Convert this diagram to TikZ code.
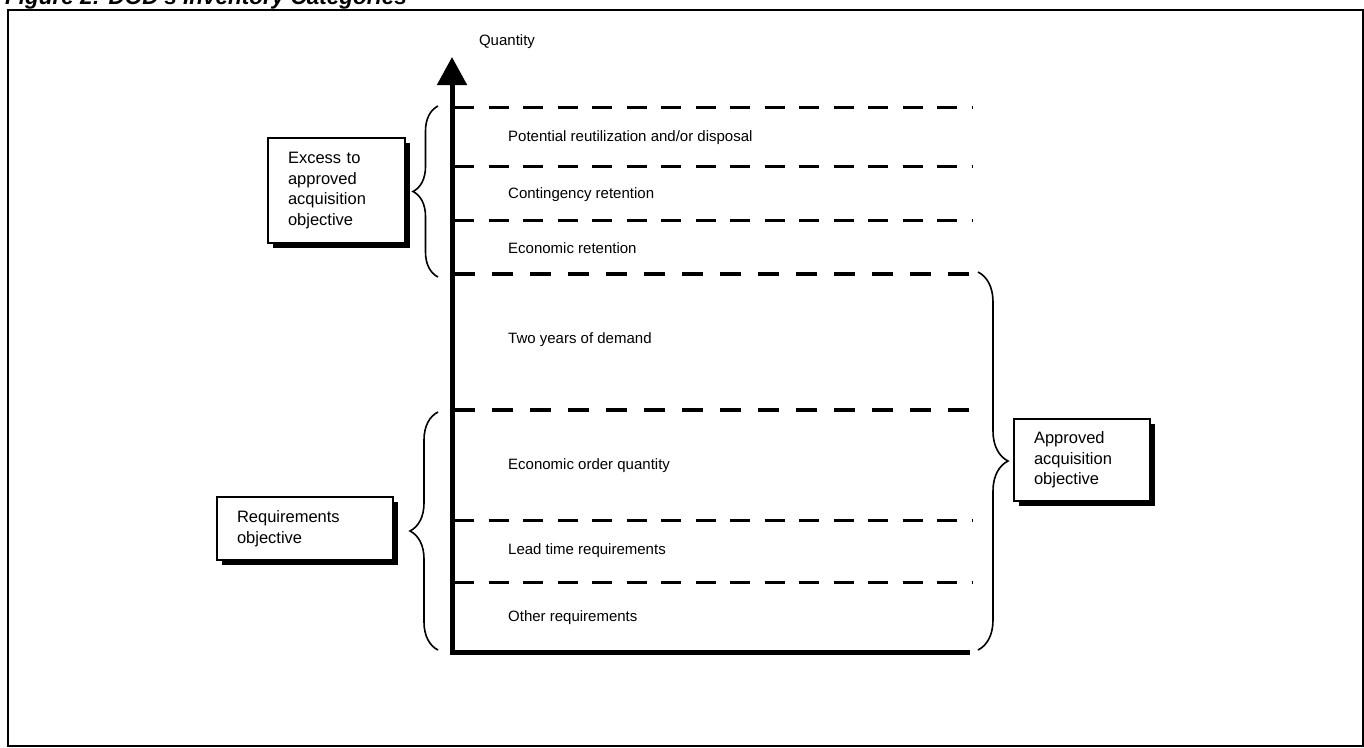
\documentclass[tikz,border=0pt]{standalone}
\usepackage{fontspec}
\setmainfont{Liberation Sans}
\usetikzlibrary{arrows.meta,decorations.pathreplacing,shadows}

\begin{document}
\begin{tikzpicture}[x=1pt, y=-1pt, line cap=butt,
  every node/.style={font=\fontsize{15}{18}\selectfont, inner sep=0pt},
  band/.style={anchor=west},
  lvl/.style={line width=3pt, dash pattern=on 20pt off 14.5pt},
  lvlbold/.style={line width=4pt, dash pattern=on 21pt off 17pt},
  callout/.style={draw, line width=1.2pt, fill=white, align=left, inner xsep=20pt,
    font=\fontsize{16.5}{20.5}\selectfont,
    drop shadow={fill=black, opacity=1, shadow xshift=5pt, shadow yshift=-5pt}},
  curly/.style={decorate, decoration={brace, amplitude=#1}, line width=1.6pt}]

\useasboundingbox (0,0) rectangle (1364,747);

% caption, cut at the top edge of the page
\node[anchor=base west, font=\bfseries\itshape\fontsize{22.5}{26}\selectfont] (title) at (5,4.5)
  {Figure 2: DOD's Inventory Categories};
\draw[line width=1.5pt] (8,10) rectangle (1363,746);

% quantity axis
\coordinate (O) at (452,652);
\coordinate (top) at (452,57);
\draw[line width=5pt, -{Triangle[length=28pt, width=29pt]}] (970,652) -- (O) -- (top);
\node (qty) at (507,42) {Quantity};

% level lines
\foreach \yy in {107,166,220,520,582} \draw[lvl] (454,\yy) -- (972,\yy);
\foreach \yy in {274,410} \draw[lvlbold] (454,\yy) -- (970,\yy);

% bands
\node[band] (pot) at (508,138) {Potential reutilization and/or disposal};
\node[band] (cont) at (508,195) {Contingency retention};
\node[band] (econ) at (508,248) {Economic retention};
\node[band] (two) at (508,340) {Two years of demand};
\node[band] (eoq) at (508,466) {Economic order quantity};
\node[band] (lead) at (508,551) {Lead time requirements};
\node[band] (other) at (508,618) {Other requirements};

% brace ends
\coordinate (exTop) at (438,106);
\coordinate (exBot) at (438,277);
\coordinate (reqTop) at (438,412);
\coordinate (reqBot) at (438,650);
\coordinate (aaoTop) at (978,272);
\coordinate (aaoBot) at (978,650);

\draw[curly=25pt] (exBot) -- (exTop);
\draw[curly=28pt] (reqBot) -- (reqTop);
\draw[curly=30pt] (aaoTop) -- (aaoBot);

% call-out boxes
\node[callout, minimum width=137pt, minimum height=105pt, text width=97pt] (excess) at (336.5,190.5)
  {Excess to\\approved\\acquisition\\objective};
\node[callout, minimum width=176pt, minimum height=63pt, text width=136pt] (reqobj) at (305,528.5)
  {Requirements\\objective};
\node[callout, minimum width=136pt, minimum height=82pt, text width=96pt] (aao) at (1082,460)
  {Approved\\acquisition\\objective};

\end{tikzpicture}
\end{document}
